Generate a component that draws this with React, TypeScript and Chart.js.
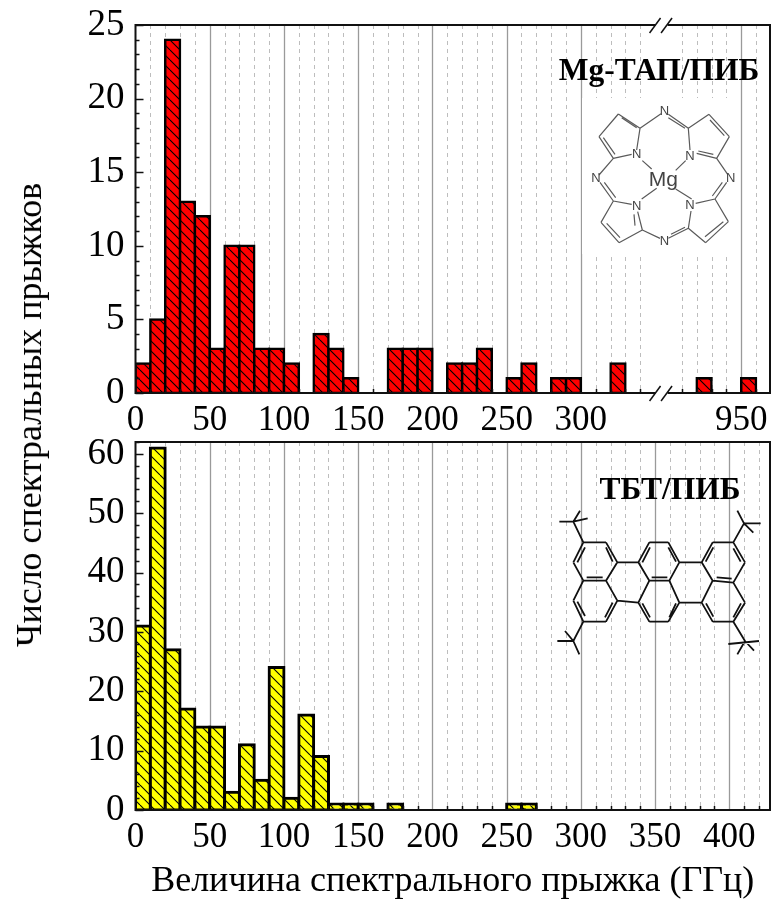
import React, { useEffect, useRef } from "react";
import { Chart, registerables } from "chart.js";

Chart.register(...registerables);

// ---------- data ----------
const topBins = [0, 10, 20, 30, 40, 50, 60, 70, 80, 90, 100, 120, 130, 140, 170, 180, 190, 210, 220, 230, 250, 260, 280, 290, 320, 920, 950];
const topCounts = [2, 5, 24, 13, 12, 3, 10, 10, 3, 3, 2, 4, 3, 1, 3, 3, 3, 2, 2, 3, 1, 2, 1, 1, 2, 1, 1];
const bottomBins = [0, 10, 20, 30, 40, 50, 60, 70, 80, 90, 100, 110, 120, 130, 140, 150, 170, 250, 260];
const bottomCounts = [31, 61, 27, 17, 14, 14, 3, 11, 5, 24, 2, 16, 9, 1, 1, 1, 1, 1, 1];
const topMajorTicks = [0, 50, 100, 150, 200, 250, 300, 950];
const topMinorTicks = [10, 20, 30, 40, 60, 70, 80, 90, 110, 120, 130, 140, 160, 170, 180, 190, 210, 220, 230, 240, 260, 270, 280, 290, 310, 320, 330, 340, 910, 920, 930, 940, 960];
const bottomMajorTicks = [0, 50, 100, 150, 200, 250, 300, 350, 400];
const bottomMinorTicks = [10, 20, 30, 40, 60, 70, 80, 90, 110, 120, 130, 140, 160, 170, 180, 190, 210, 220, 230, 240, 260, 270, 280, 290, 310, 320, 330, 340, 360, 370, 380, 390, 410, 420];
const yTitle = "Число спектральных прыжков";
const xTitle = "Величина спектрального прыжка (ГГц)";
const topLabel = "Mg-ТАП/ПИБ";
const bottomLabel = "ТБТ/ПИБ";

// Broken axis: values above the gap are shifted left by a fixed amount.
const GAP_FROM = 350;
const GAP_SHIFT = 542;
const AXIS_MAX = 427.4;
const BREAK_AT = 353;
const brk = (v: number) => (v > GAP_FROM ? v - GAP_SHIFT : v);
const same = (v: number) => v;

const SERIF = '"Liberation Serif", serif';
const SANS = '"Liberation Sans", sans-serif';

type Seg = number[];
const mgLines: Seg[] = [
  [228, 56, 165, 100], [165, 100, 100, 57], [110, 68, 155, 98], [100, 57, 42, 125], [42, 125, 85, 190], [55, 128, 90, 178],
  [85, 190, 140, 178], [165, 100, 155, 165],
  [250, 58, 310, 100], [250, 68, 300, 100], [310, 100, 372, 58], [372, 58, 433, 125], [375, 75, 418, 122], [433, 125, 395, 190],
  [395, 190, 335, 175], [385, 178, 340, 168], [310, 100, 315, 165],
  [395, 190, 428, 238], [425, 262, 390, 312], [412, 262, 382, 303],
  [85, 190, 42, 240], [45, 262, 85, 318], [58, 262, 92, 308],
  [85, 318, 140, 328], [85, 318, 48, 382], [48, 382, 102, 443], [65, 385, 105, 428], [102, 443, 172, 405], [172, 405, 158, 350], [150, 392, 147, 358],
  [390, 312, 332, 325], [390, 312, 430, 380], [430, 380, 362, 443], [415, 380, 360, 425], [362, 443, 310, 400], [310, 400, 318, 348],
  [172, 405, 225, 430], [250, 430, 310, 400], [258, 418, 300, 397],
  [172, 197, 200, 222], [302, 197, 272, 226], [170, 312, 215, 280], [320, 312, 272, 282],
];
const mgAtoms: [string, number, number][] = [
  ["N", 238, 50], ["N", 155, 178], ["N", 315, 183], ["N", 33, 250], ["N", 437, 250],
  ["N", 155, 333], ["N", 315, 332], ["N", 238, 438],
];
const tbtLines: Seg[] = [
  [160, 247, 228, 247], [228, 247, 262, 307], [262, 307, 228, 362], [228, 362, 160, 362], [160, 362, 130, 307], [130, 307, 160, 247],
  [228, 362, 262, 422], [262, 422, 228, 485], [228, 485, 160, 485], [160, 485, 130, 422], [130, 422, 160, 362],
  [358, 247, 415, 247], [415, 247, 448, 307], [448, 307, 418, 362], [418, 362, 358, 362], [358, 362, 325, 307], [325, 307, 358, 247],
  [418, 362, 448, 428], [448, 428, 415, 485], [415, 485, 358, 485], [358, 485, 325, 428], [325, 428, 358, 362],
  [548, 247, 610, 247], [610, 247, 645, 307], [645, 307, 610, 368], [610, 368, 548, 362], [548, 362, 515, 307], [515, 307, 548, 247],
  [610, 368, 645, 428], [645, 428, 610, 485], [610, 485, 548, 485], [548, 485, 515, 428], [515, 428, 548, 362],
  [262, 307, 325, 307], [262, 422, 325, 428], [448, 307, 515, 307], [448, 428, 515, 428],
  [142, 307, 165, 262], [228, 262, 248, 305], [170, 352, 218, 352], [142, 425, 165, 468], [225, 472, 248, 428],
  [337, 307, 360, 262], [415, 262, 438, 305], [365, 352, 412, 352], [337, 430, 360, 472], [418, 472, 438, 430],
  [527, 305, 550, 262], [632, 305, 610, 265], [560, 352, 605, 356], [528, 430, 550, 470], [610, 472, 633, 430],
  [160, 247, 130, 185], [88, 185, 130, 185], [130, 185, 173, 175], [130, 185, 150, 152],
  [610, 247, 642, 190], [642, 190, 692, 190], [642, 190, 622, 152], [642, 190, 670, 218],
  [160, 485, 130, 543], [82, 543, 130, 543], [130, 543, 105, 513], [130, 543, 148, 583],
  [610, 485, 645, 543], [595, 552, 687, 543], [645, 543, 622, 583], [645, 543, 672, 572],
];

function hatch(color: string): CanvasPattern {
  const P = 10;
  const c = document.createElement("canvas");
  c.width = P;
  c.height = P;
  const g = c.getContext("2d")!;
  g.fillStyle = color;
  g.fillRect(0, 0, P, P);
  g.strokeStyle = "#000";
  g.lineWidth = 1.1;
  for (const d of [-P, 0, P]) {
    g.beginPath();
    g.moveTo(d, 0);
    g.lineTo(d + P, P);
    g.stroke();
  }
  return g.createPattern(c, "repeat")!;
}

function drawLines(g: CanvasRenderingContext2D, lines: Seg[], ox: number, oy: number, s: number) {
  g.beginPath();
  for (const [a, b, c, d] of lines) {
    g.moveTo(ox + a * s, oy + b * s);
    g.lineTo(ox + c * s, oy + d * s);
  }
  g.stroke();
}

interface PanelCfg {
  bins: number[];
  counts: number[];
  color: string;
  edge: number;
  map: (v: number) => number;
  majors: number[];
  minors: number[];
  yMax: number;
  yMajor: number;
  yMinor: number;
  padTop: number;
  xAxisHeight: number;
  broken: boolean;
  offsetY: number;
  label: string;
  labelX: number;
  labelY: number;
  xAxisTitle?: string;
}

function makeChart(canvas: HTMLCanvasElement, p: PanelCfg) {
  const underlay = {
    id: "underlay",
    beforeDatasetsDraw(chart: any) {
      const g: CanvasRenderingContext2D = chart.ctx;
      const { chartArea: a, scales } = chart;
      const x = scales.x;
      g.save();
      g.lineWidth = 1;
      g.strokeStyle = "#bdbdbd";
      g.setLineDash([4, 4]);
      for (const v of p.minors) {
        const px = Math.round(x.getPixelForValue(p.map(v))) + 0.5;
        g.beginPath();
        g.moveTo(px, a.top);
        g.lineTo(px, a.bottom);
        g.stroke();
      }
      g.setLineDash([]);
      g.strokeStyle = "#9a9a9a";
      g.lineWidth = 1.3;
      for (const v of p.majors) {
        if (v === 0) continue;
        const px = Math.round(x.getPixelForValue(p.map(v))) + 0.5;
        g.beginPath();
        g.moveTo(px, a.top);
        g.lineTo(px, a.bottom);
        g.stroke();
      }
      if (p.broken) {
        g.fillStyle = "#fff";
        g.fillRect(582, 98 - p.offsetY, 153, 156);
        g.strokeStyle = "#5a5a5a";
        g.lineWidth = 1.2;
        drawLines(g, mgLines, 585, 95 - p.offsetY, 1 / 3);
        g.fillStyle = "#444";
        g.font = `13px ${SANS}`;
        g.textAlign = "center";
        g.textBaseline = "middle";
        for (const [t, ax, ay] of mgAtoms) g.fillText(t, 585 + ax / 3, 95 - p.offsetY + ay / 3);
        g.font = `21px ${SANS}`;
        g.fillText("Mg", 585 + 235 / 3, 95 - p.offsetY + 257 / 3);
      } else {
        g.strokeStyle = "#111";
        g.lineWidth = 1.8;
        drawLines(g, tbtLines, 530, 460 - p.offsetY, 1 / 3);
      }
      g.fillStyle = "#000";
      g.font = `bold 31.5px ${SERIF}`;
      g.textAlign = "center";
      g.textBaseline = "alphabetic";
      g.fillText(p.label, p.labelX, p.labelY - p.offsetY);
      g.restore();
    },
    afterDatasetsDraw(chart: any) {
      const g: CanvasRenderingContext2D = chart.ctx;
      const { chartArea: a, scales } = chart;
      const { x, y } = scales;
      g.save();
      g.strokeStyle = "#111";
      g.lineWidth = 2;
      g.beginPath();
      g.rect(a.left, a.top, a.right - a.left, a.bottom - a.top);
      g.stroke();
      g.lineWidth = 1.5;
      for (const t of y.ticks) {
        const py = Math.round(y.getPixelForValue(t.value)) + 0.5;
        const len = t.value % p.yMajor === 0 ? 8 : 4;
        g.beginPath();
        g.moveTo(a.left, py);
        g.lineTo(a.left + len, py);
        g.stroke();
      }
      for (const v of p.minors) {
        const px = Math.round(x.getPixelForValue(p.map(v))) + 0.5;
        g.beginPath();
        g.moveTo(px, a.bottom);
        g.lineTo(px, a.bottom - 4);
        g.stroke();
      }
      if (p.broken) {
        const bx = x.getPixelForValue(BREAK_AT);
        g.fillStyle = "#fff";
        g.fillRect(bx - 4, a.top - 2, 12, 4);
        g.fillRect(bx - 4, a.bottom - 2, 12, 4);
        g.lineWidth = 1.5;
        for (const base of [a.top, a.bottom]) {
          for (const dx of [-6, 5.5]) {
            g.beginPath();
            g.moveTo(bx + dx - 4, base + 8);
            g.lineTo(bx + dx + 7, base - 7);
            g.stroke();
          }
        }
      }
      g.restore();
    },
  };

  return new Chart(canvas, {
    type: "bar",
    data: {
      datasets: [
        {
          data: p.bins.map((b, i) => ({ x: p.map(b + 5), y: p.counts[i] })),
          backgroundColor: hatch(p.color),
          borderColor: "#000",
          borderWidth: p.edge,
          inflateAmount: p.edge / 2,
          borderSkipped: false,
          barPercentage: 1,
          categoryPercentage: 1,
          grouped: false,
        },
      ],
    },
    plugins: [underlay],
    options: {
      animation: false,
      responsive: false,
      devicePixelRatio: 1,
      layout: { padding: { left: 0, right: 1, top: p.padTop, bottom: 0 } },
      plugins: { legend: { display: false }, tooltip: { enabled: false } },
      scales: {
        x: {
          type: "linear",
          offset: false,
          min: 0,
          max: AXIS_MAX,
          grid: { display: false, offset: false, drawTicks: false },
          border: { display: false },
          afterBuildTicks: (s: any) => {
            s.ticks = p.majors.map((v) => ({ value: p.map(v), label: String(v) }));
          },
          afterFit: (s: any) => {
            s.height = p.xAxisHeight;
            s.paddingRight = 0;
            s.paddingLeft = 0;
          },
          ticks: {
            autoSkip: false,
            maxRotation: 0,
            padding: 7,
            color: "#000",
            font: { family: SERIF, size: 35 },
            callback: (v: any) => {
              const m = p.majors.find((t) => p.map(t) === v);
              return m === undefined ? "" : String(m);
            },
          },
          title: p.xAxisTitle
            ? { display: true, text: p.xAxisTitle, color: "#000", font: { family: SERIF, size: 36 }, padding: { top: 4, bottom: 0 } }
            : { display: false },
        },
        y: {
          min: 0,
          max: p.yMax,
          grid: { display: false, drawTicks: false },
          border: { display: false },
          afterFit: (s: any) => {
            s.width = 135.5;
          },
          ticks: {
            stepSize: p.yMinor,
            autoSkip: false,
            padding: 11,
            color: "#000",
            font: { family: SERIF, size: 37 },
            callback: (v: any) => (Number(v) % p.yMajor === 0 ? String(v) : ""),
          },
        },
      },
    } as any,
  });
}

export default function App() {
  const topRef = useRef<HTMLCanvasElement>(null);
  const botRef = useRef<HTMLCanvasElement>(null);

  useEffect(() => {
    const a = makeChart(topRef.current!, {
      bins: topBins,
      counts: topCounts,
      color: "#ff0000",
      edge: 2.5,
      map: brk,
      majors: topMajorTicks,
      minors: topMinorTicks,
      yMax: 25,
      yMajor: 5,
      yMinor: 1,
      padTop: 65,
      xAxisHeight: 48,
      broken: true,
      offsetY: -40,
      label: topLabel,
      labelX: 659,
      labelY: 80,
    });
    const b = makeChart(botRef.current!, {
      bins: bottomBins,
      counts: bottomCounts,
      color: "#ffff00",
      edge: 3,
      map: same,
      majors: bottomMajorTicks,
      minors: bottomMinorTicks,
      yMax: 62,
      yMajor: 10,
      yMinor: 2,
      padTop: 47,
      xAxisHeight: 93,
      broken: false,
      offsetY: 395,
      label: bottomLabel,
      labelX: 670,
      labelY: 499,
      xAxisTitle: xTitle,
    });
    return () => {
      a.destroy();
      b.destroy();
    };
  }, []);

  return (
    <div style={{ position: "absolute", left: 0, top: 0, width: 771, height: 900, background: "#fff", overflow: "hidden" }}>
      <canvas ref={botRef} width={771} height={508} style={{ position: "absolute", left: 0, top: 395, display: "block" }} />
      <canvas ref={topRef} width={771} height={481} style={{ position: "absolute", left: 0, top: -40, display: "block" }} />
      <div
        style={{
          position: "absolute",
          left: 29,
          top: 415,
          transform: "translate(-50%, -50%) rotate(-90deg)",
          whiteSpace: "nowrap",
          fontFamily: SERIF,
          fontSize: 36,
          color: "#000",
        }}
      >
        {yTitle}
      </div>
    </div>
  );
}
